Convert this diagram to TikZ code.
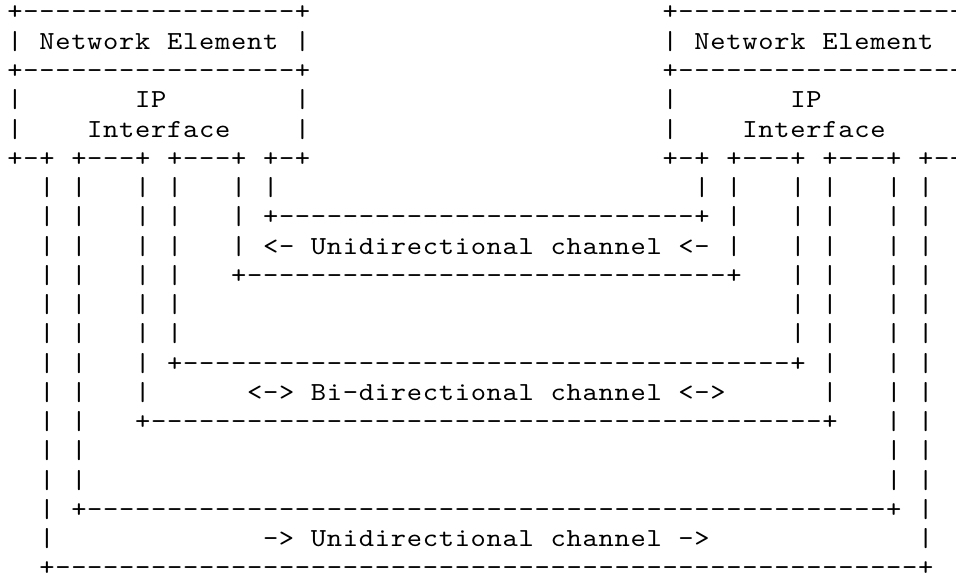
\documentclass[tikz,border=0pt]{standalone}
\usepackage{fontspec}
\newfontfamily\ascfont{lmmono10-regular}[Extension=.otf,FakeStretch=1.12]
\newcommand\ascpitch{15.98pt}
\ExplSyntaxOn
\str_new:N \l__asc_row_str
\cs_new:Npn \ascr #1#2 { \prg_replicate:nn {#1} {#2} }
\NewDocumentCommand \ascrow { m }
  {
    \str_set:Nx \l__asc_row_str {#1}
    \str_map_inline:Nn \l__asc_row_str
      { \makebox[\ascpitch][c]{ \str_if_eq:nnF {##1} {.} {##1} } }
  }
\ExplSyntaxOff
\tikzset{
  ascline/.style={inner sep=0pt, outer sep=0pt, anchor=base west,
    font=\fontsize{26pt}{26pt}\ascfont}
}
\begin{document}
\begin{tikzpicture}[x=1pt,y=1pt]
\useasboundingbox (0,0) rectangle (956,576);
\fill[white] (0,0) rectangle (956,576);
\clip (0,0) rectangle (956,576);
\node[ascline] (r0)  at (7.01,{556-29.26*0})  {\ascrow{+\ascr{17}{-}+\ascr{22}{.}+\ascr{17}{-}+}};
\node[ascline] (r1)  at (7.01,{556-29.26*1})  {\ascrow{|.Network.Element.|\ascr{22}{.}|.Network.Element}};
\node[ascline] (r2)  at (7.01,{556-29.26*2})  {\ascrow{+\ascr{17}{-}+\ascr{22}{.}+\ascr{17}{-}+}};
\node[ascline] (r3)  at (7.01,{556-29.26*3})  {\ascrow{|\ascr{7}{.}IP\ascr{8}{.}|\ascr{22}{.}|\ascr{7}{.}IP}};
\node[ascline] (r4)  at (7.01,{556-29.26*4})  {\ascrow{|....Interface....|\ascr{22}{.}|....Interface}};
\node[ascline] (r5)  at (7.01,{556-29.26*5})  {\ascrow{+-+.+---+.+---+.+-+\ascr{22}{.}+-+.+---+.+---+.+-+}};
\node[ascline] (r6)  at (7.01,{556-29.26*6})  {\ascrow{..|.|...|.|...|.|\ascr{26}{.}|.|...|.|...|.|}};
\node[ascline] (r7)  at (7.01,{556-29.26*7})  {\ascrow{..|.|...|.|...|.+\ascr{26}{-}+.|...|.|...|.|}};
\node[ascline] (r8)  at (7.01,{556-29.26*8})  {\ascrow{..|.|...|.|...|.<-.Unidirectional.channel.<-.|...|.|...|.|}};
\node[ascline] (r9)  at (7.01,{556-29.26*9})  {\ascrow{..|.|...|.|...+\ascr{30}{-}+...|.|...|.|}};
\node[ascline] (r10) at (7.01,{556-29.26*10}) {\ascrow{..|.|...|.|\ascr{38}{.}|.|...|.|}};
\node[ascline] (r11) at (7.01,{556-29.26*11}) {\ascrow{..|.|...|.|\ascr{38}{.}|.|...|.|}};
\node[ascline] (r12) at (7.01,{556-29.26*12}) {\ascrow{..|.|...|.+\ascr{38}{-}+.|...|.|}};
\node[ascline] (r13) at (7.01,{556-29.26*13}) {\ascrow{..|.|...|......<->.Bi-directional.channel.<->\ascr{6}{.}|...|.|}};
\node[ascline] (r14) at (7.01,{556-29.26*14}) {\ascrow{..|.|...+\ascr{42}{-}+...|.|}};
\node[ascline] (r15) at (7.01,{556-29.26*15}) {\ascrow{..|.|\ascr{50}{.}|.|}};
\node[ascline] (r16) at (7.01,{556-29.26*16}) {\ascrow{..|.|\ascr{50}{.}|.|}};
\node[ascline] (r17) at (7.01,{556-29.26*17}) {\ascrow{..|.+\ascr{50}{-}+.|}};
\node[ascline] (r18) at (7.01,{556-29.26*18}) {\ascrow{..|\ascr{13}{.}->.Unidirectional.channel.->\ascr{13}{.}|}};
\node[ascline] (r19) at (7.01,{556-29.26*19}) {\ascrow{..+\ascr{54}{-}+}};
\end{tikzpicture}
\end{document}
